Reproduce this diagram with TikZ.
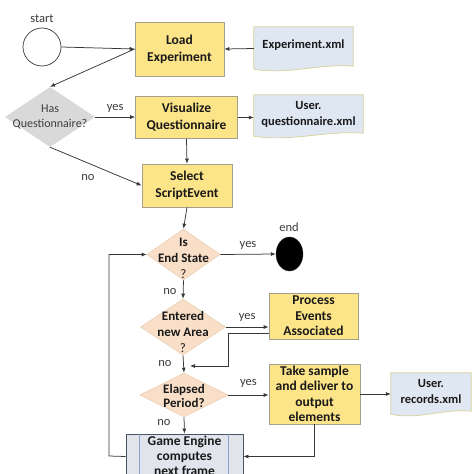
\documentclass[tikz,border=0pt]{standalone}
\usepackage{fontspec}
\setmainfont{Carlito}
\usetikzlibrary{shapes.geometric,arrows.meta,calc}
\definecolor{yfill}{RGB}{252,228,136}
\definecolor{yline}{RGB}{165,160,140}
\definecolor{dfill}{RGB}{223,231,243}
\definecolor{dline}{RGB}{214,210,150}
\definecolor{gfill}{RGB}{217,217,217}
\definecolor{pfill}{RGB}{249,223,200}
\definecolor{pline}{RGB}{232,208,178}
\definecolor{efill}{RGB}{226,228,236}
\definecolor{eline}{RGB}{75,82,100}
\definecolor{einner}{RGB}{140,158,208}
\definecolor{arr}{RGB}{55,55,55}
\definecolor{txt}{RGB}{25,25,25}
\definecolor{lbl}{RGB}{60,60,60}
\tikzset{
  procbox/.style={rectangle, draw=yline, fill=yfill, line width=0.7pt, inner sep=0pt,
    align=center, text=txt, font=\fontsize{13.5}{17}\selectfont\bfseries},
  docbox/.style={rectangle, inner sep=0pt, align=center, text=txt,
    font=\fontsize{12.5}{16}\selectfont\bfseries},
  decshape/.style={diamond, inner sep=0pt},
  dtext/.style={align=center, text=txt, font=\fontsize{13}{16}\selectfont\bfseries},
  lab/.style={text=lbl, font=\fontsize{12.5}{14}\selectfont},
  conn/.style={draw=arr, line width=0.75pt, -{Latex[length=5pt,width=4pt]}},
}
\newcommand{\docpath}[1]{%
  \path[draw=dline, fill=dfill, line width=0.7pt]
    (#1.north west) -- (#1.north east) -- ($(#1.south east)+(0,-4)$)
    .. controls ($(#1.south east)!0.35!(#1.south west)+(0,-7)$)
    and ($(#1.south east)!0.65!(#1.south west)+(0,5)$)
    .. ($(#1.south west)+(0,-1)$) -- cycle;}
\begin{document}
\begin{tikzpicture}[x=1pt,y=-1pt]
\useasboundingbox (0,0) rectangle (474,474);
\clip (0,0) rectangle (474,474);
\fill[white] (0,0) rectangle (474,474);

% start / end
\node[circle, draw=arr, line width=0.7pt, fill=white, minimum size=38pt, inner sep=0pt] (start) at (42,47) {};
\node[lab] (startlbl) at (42,19) {start};
\node[ellipse, fill=black, draw=black!80, minimum width=27pt, minimum height=34pt, inner sep=0pt] (endc) at (289.5,254) {};
\node[lab] (endlbl) at (289,227) {end};

% process boxes
\node[procbox, minimum width=89pt, minimum height=54pt] (load) at (179.5,49) {Load\\Experiment};
\node[procbox, minimum width=102pt, minimum height=42pt] (visq) at (186.5,117.5) {Visualize\\Questionnaire};
\node[procbox, minimum width=90pt, minimum height=43pt] (sel) at (187,185.5) {Select\\ScriptEvent};
\node[procbox, minimum width=89pt, minimum height=46pt, font=\fontsize{13.5}{15.5}\selectfont\bfseries] (proc) at (313.5,316) {Process\\Events\\Associated};
\node[procbox, minimum width=91pt, minimum height=60pt, font=\fontsize{13.5}{15.5}\selectfont\bfseries] (take) at (314.5,394) {Take sample\\and deliver to\\output\\elements};

% documents
\node[docbox, minimum width=99pt, minimum height=43pt] (expxml) at (303.5,48.5) {};
\docpath{expxml}
\node[docbox] at ($(expxml.center)+(0,-3)$) {Experiment.xml};
\node[docbox, minimum width=109pt, minimum height=42pt] (uqxml) at (308.5,116) {};
\docpath{uqxml}
\node[docbox] at ($(uqxml.center)+(0,-2)$) {User.\\questionnaire.xml};
\node[docbox, minimum width=80pt, minimum height=42pt] (recxml) at (431,394) {};
\docpath{recxml}
\node[docbox] at ($(recxml.center)+(0,-3)$) {User.\\records.xml};

% decisions
\node[decshape, fill=gfill, minimum width=90pt, minimum height=60pt] (hasq) at (50,117) {};
\node[align=center, text=lbl, font=\fontsize{12}{15.5}\selectfont] at (50,117) {Has\\Questionnaire?};
\node[decshape, fill=pfill, draw=pline, line width=0.6pt, minimum width=73pt, minimum height=51pt] (isend) at (183.5,254.5) {};
\node[dtext] at (183.5,258.5) {Is\\End State\\{\mdseries ?}};
\node[decshape, fill=pfill, draw=pline, line width=0.6pt, minimum width=85pt, minimum height=56pt] (entered) at (183,327) {};
\node[dtext] at (183,332) {Entered\\new Area\\{\mdseries ?}};
\node[decshape, fill=pfill, draw=pline, line width=0.6pt, minimum width=88pt, minimum height=44pt] (elapsed) at (184,395) {};
\node[dtext, font=\fontsize{13}{14}\selectfont\bfseries] at (184,396) {Elapsed\\Period?};

% game engine
\node[rectangle, draw=eline, fill=efill, line width=0.8pt, minimum width=117pt, minimum height=45pt, inner sep=0pt] (game) at (184.5,456.5) {};
\draw[einner, line width=0.6pt] ($(game.north west)+(14,0)$) -- ($(game.south west)+(14,0)$);
\draw[einner, line width=0.6pt] ($(game.north east)+(-15,0)$) -- ($(game.south east)+(-15,0)$);
\node[dtext, font=\fontsize{13.5}{15}\selectfont\bfseries] at (184.5,456) {Game Engine\\computes\\next frame};

% connectors
\draw[conn] (start.east) -- (load.west);
\draw[conn] (expxml.west) -- (load.east);
\draw[conn] (load.west) -- (hasq.north);
\draw[conn] (hasq.east) -- node[lab, above, pos=0.5, yshift=1pt] (yes1) {yes} (hasq.east -| visq.west);
\draw[conn] (visq.east) -- (visq.east -| uqxml.west);
\draw[conn] (visq.south) -- (sel.north);
\draw[conn] (hasq.south) -- (sel.west);
\node[lab] (no1) at (88,178) {no};
\draw[conn] (sel.south) -- (isend.north);
\draw[conn] (isend.east) -- node[lab, above, yshift=1pt] (yes2) {yes} (endc.west);
\draw[conn] (isend.south) -- (entered.north);
\node[lab] (no2) at (170,292) {no};
\draw[conn] (entered.east) -- node[lab, above, yshift=2pt] (yes3) {yes} (entered.east -| proc.west);
\coordinate (ret1) at (228,333);
\coordinate (ret2) at (190,366);
\draw[conn] (ret1 -| proc.west) -- (ret1) |- (ret2);
\draw[conn] (entered.south) -- (elapsed.north);
\node[lab] (no3) at (165,364) {no};
\draw[conn] (elapsed.east) -- node[lab, above, yshift=4pt] (yes4) {yes} (elapsed.east -| take.west);
\draw[conn] (take.east) -- (take.east -| recxml.west);
\draw[conn] (take.south) |- (game.east);
\draw[conn] (elapsed.south) -- (game.north);
\node[lab] (no4) at (164,423) {no};
\coordinate (loopx) at (109,456);
\draw[conn] (game.west) -- (loopx) |- (isend.west);
\end{tikzpicture}
\end{document}
